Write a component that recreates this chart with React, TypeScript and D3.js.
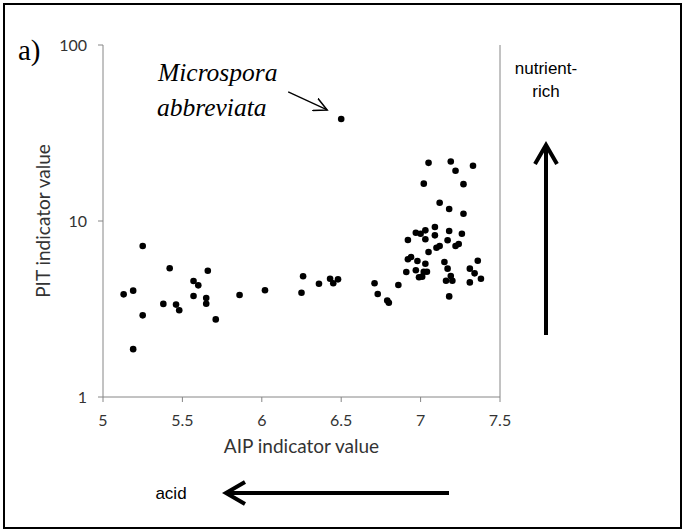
import React from "react";
import * as d3 from "d3";

// AIP (x) and PIT (y) indicator values
const aipValues = [
  5.13, 5.19, 5.25, 5.25, 5.19, 5.42, 5.38, 5.46, 5.48, 5.57, 5.6, 5.57, 5.66,
  5.65, 5.65, 5.71, 5.86, 6.02, 6.26, 6.25, 6.36, 6.43, 6.45, 6.48, 6.5, 6.71,
  6.73, 6.79, 6.8, 6.86, 7.05, 7.19, 7.22, 7.33, 7.02, 7.27, 7.12, 7.18, 7.27,
  7.09, 7.03, 6.97, 7.0, 7.18, 7.26, 6.92, 7.03, 7.09, 7.17, 7.12, 7.1, 7.22,
  7.24, 7.05, 6.92, 6.94, 6.98, 7.03, 7.15, 7.17, 7.36, 6.91, 6.97, 7.02, 7.04,
  6.99, 7.01, 7.31, 7.34, 7.38, 7.19, 7.16, 7.2, 7.31, 7.18,
];
const pitValues = [
  3.83, 4.02, 7.21, 2.91, 1.87, 5.39, 3.38, 3.35, 3.11, 4.56, 4.31, 3.75, 5.22,
  3.65, 3.39, 2.76, 3.8, 4.04, 4.85, 3.91, 4.4, 4.7, 4.43, 4.66, 38.0, 4.43,
  3.85, 3.53, 3.43, 4.33, 21.4, 21.8, 19.3, 20.6, 16.3, 16.2, 12.7, 11.7, 11.0,
  9.25, 8.85, 8.58, 8.47, 8.77, 8.47, 7.8, 7.87, 8.29, 7.77, 7.21, 7.05, 7.21,
  7.4, 6.67, 6.06, 6.24, 5.93, 5.72, 5.85, 5.36, 5.95, 5.13, 5.25, 5.15, 5.15,
  4.79, 4.83, 5.36, 5.04, 4.7, 4.87, 4.58, 4.58, 4.48, 3.73,
];
const xTicks = [5, 5.5, 6, 6.5, 7, 7.5];
const yTicks = [1, 10, 100];

const W = 683;
const H = 531;
const axisColor = "#868686";
const labelFont = "Lato, 'Open Sans', sans-serif";
const arialFont = "'Liberation Sans', Arial, sans-serif";
const serifFont = "'Liberation Serif', 'Times New Roman', serif";

export default function App() {
  const x = d3.scaleLinear().domain([5, 7.5]).range([103, 500]);
  const y = d3.scaleLog().domain([1, 100]).range([397, 45]);

  const points = aipValues.map((a, i) => ({ a, p: pitValues[i] }));
  const annX = x(6.5);
  const annY = y(38);

  return (
    <svg
      width={W}
      height={H}
      style={{ position: "absolute", left: 0, top: 0, background: "#fff" }}
    >
      <defs>
        <marker
          id="thinhead"
          viewBox="0 0 10 10"
          refX="9"
          refY="5"
          markerWidth="15"
          markerHeight="15"
          markerUnits="userSpaceOnUse"
          orient="auto"
        >
          <path d="M0,0.5 L9,5 L0,9.5" fill="none" stroke="#000" strokeWidth="1" />
        </marker>
      </defs>

      {/* outer frame */}
      <rect x={4} y={4} width={677} height={524} fill="none" stroke="#000" strokeWidth={2} />

      <text x={18} y={60} fontFamily={serifFont} fontSize={29}>
        a)
      </text>

      {/* axes */}
      <line x1={x(5)} x2={x(5)} y1={y(100)} y2={y(1)} stroke={axisColor} />
      <line x1={x(5)} x2={x(7.5)} y1={y(1)} y2={y(1)} stroke={axisColor} />
      <line x1={x(7.5)} x2={x(7.5)} y1={y(100)} y2={y(1)} stroke={axisColor} />
      {yTicks.map((t) => (
        <g key={"y" + t}>
          <line x1={x(5) - 5} x2={x(5)} y1={y(t)} y2={y(t)} stroke={axisColor} />
          <text
            x={x(5) - 16}
            y={y(t)}
            dy="0.35em"
            textAnchor="end"
            fontFamily={labelFont}
            fontSize={16}
            fill="#333"
          >
            {t}
          </text>
        </g>
      ))}
      {xTicks.map((t) => (
        <g key={"x" + t}>
          <line x1={x(t)} x2={x(t)} y1={y(1)} y2={y(1) + 5} stroke={axisColor} />
          <text
            x={x(t)}
            y={y(1) + 29}
            textAnchor="middle"
            fontFamily={labelFont}
            fontSize={16}
            fill="#333"
          >
            {t}
          </text>
        </g>
      ))}
      <text
        x={(x(5) + x(7.5)) / 2}
        y={453}
        textAnchor="middle"
        fontFamily={labelFont}
        fontSize={19}
        fill="#333"
      >
        AIP indicator value
      </text>
      <text
        transform={`translate(50,${y(10)}) rotate(-90)`}
        textAnchor="middle"
        fontFamily={labelFont}
        fontSize={19}
        fill="#333"
      >
        PIT indicator value
      </text>

      {/* points */}
      {points.map((d, i) => (
        <circle key={i} cx={x(d.a)} cy={y(d.p)} r={3.3} fill="#000" />
      ))}

      {/* annotation */}
      <text fontFamily={serifFont} fontStyle="italic" fontSize={25.5}>
        <tspan x={158} y={81}>Microspora</tspan>
        <tspan x={157} y={116}>abbreviata</tspan>
      </text>
      <line
        x1={annX - 53}
        y1={annY - 27}
        x2={annX - 14}
        y2={annY - 9}
        stroke="#000"
        strokeWidth={1.3}
        markerEnd="url(#thinhead)"
      />

      {/* nutrient-rich arrow */}
      <text textAnchor="middle" fontFamily={arialFont} fontSize={17}>
        <tspan x={546} y={74}>nutrient-</tspan>
        <tspan x={546} y={97}>rich</tspan>
      </text>
      <line x1={546} x2={546} y1={335} y2={145} stroke="#000" strokeWidth={4} />
      <path d="M535,164 L546,145 L557,164" fill="none" stroke="#000" strokeWidth={4} />

      {/* acid arrow */}
      <text
        x={171}
        y={493}
        dy="0.35em"
        textAnchor="middle"
        fontFamily={arialFont}
        fontSize={17}
      >
        acid
      </text>
      <line x1={449} x2={226} y1={493} y2={493} stroke="#000" strokeWidth={4} />
      <path d="M245,482 L226,493 L245,504" fill="none" stroke="#000" strokeWidth={4} />
    </svg>
  );
}
